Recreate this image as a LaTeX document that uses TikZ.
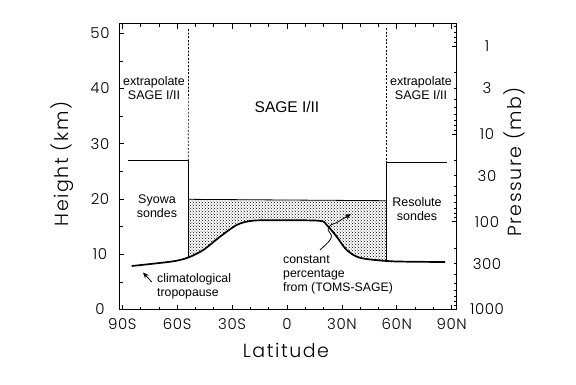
\documentclass[tikz,border=0pt]{standalone}
\usepackage{fontspec}
\setmainfont{Liberation Sans}
\newfontfamily\axfont{Poppins Light}[LetterSpace=8]
\newfontfamily\numfont{Poppins Light}[LetterSpace=4]
\usetikzlibrary{patterns,arrows.meta}
\begin{document}
\begin{tikzpicture}[x=1pt,y=-1pt,
  frame/.style={line width=0.9pt},
  tickmark/.style={line width=0.7pt},
  axnum/.style={font=\numfont\fontsize{15}{15}\selectfont, inner sep=0pt},
  axtitle/.style={font=\axfont\fontsize{19}{19}\selectfont, inner sep=0pt},
  lab/.style={font=\fontsize{12.5}{13.5}\selectfont, align=center, inner sep=0pt},
  labl/.style={font=\fontsize{12.3}{14}\selectfont, align=left, inner sep=0pt, anchor=west},
  bigl/.style={font=\fontsize{15.5}{16}\selectfont, inner sep=0pt},
  thinline/.style={line width=0.8pt},
  dashline/.style={line width=0.7pt, dash pattern=on 2pt off 1.6pt},
  tropo/.style={line width=1.7pt},
  pointer/.style={line width=0.8pt, -{Stealth[length=6pt,width=5pt]}}
]
\useasboundingbox (0,0) rectangle (576,384);
\fill[white] (0,0) rectangle (576,384);

% shaded region above the tropopause, below the SAGE box top
\begin{scope}
  \clip plot[smooth] coordinates {(131.7,266) (156.7,263.3) (175,261) (188.3,257.5) (203.3,250) (220,236.7) (236.7,225) (250,221) (265,220.3) (318,220.7) (326.7,225) (336.7,236.7) (346.7,250) (360,257.8) (386.7,261) (410,261.7) (445,262)} -- (445,150) -- (131.7,150) -- cycle;
  \fill[pattern=crosshatch dots] (188.3,199.3) -- (386.7,200.7) -- (386.7,275) -- (188.3,275) -- cycle;
\end{scope}

% tropopause curve
\draw[tropo] plot[smooth] coordinates {(131.7,266) (156.7,263.3) (175,261) (188.3,257.5) (203.3,250) (220,236.7) (236.7,225) (250,221) (265,220.3) (318,220.7) (326.7,225) (336.7,236.7) (346.7,250) (360,257.8) (386.7,261) (410,261.7) (445,262)};

% region boundaries
\coordinate (lt) at (188.5,29);
\coordinate (lm) at (188.3,160.3);
\coordinate (lb) at (188.3,257.5);
\coordinate (rt) at (386.7,28);
\coordinate (rm) at (386.7,162.7);
\coordinate (rb) at (386.7,261);
\coordinate (ll) at (128.3,160.3);
\coordinate (rr) at (446.7,162.7);
\draw[dashline] (lt) -- (lm);
\draw[dashline] (rt) -- (rm);
\draw[thinline] (ll) -- (lm) -- (lb);
\draw[thinline] (rr) -- (rm) -- (rb);
\draw[thinline] (188.3,199.3) -- (386.7,200.7);

% frame
\draw[frame] (119,23.5) rectangle (456.5,309.5);

% latitude ticks
\foreach \l in {-90,-80,...,90} {
  \pgfmathsetmacro\xx{287+1.83*\l}
  \pgfmathsetmacro\len{ifthenelse(mod(\l,30)==0,5,3)}
  \draw[tickmark] (\xx,309.5) -- ++(0,-\len);
  \draw[tickmark] (\xx,23.5) -- ++(0,\len);
}
% height ticks
\foreach \h in {0,5,...,50} {
  \pgfmathsetmacro\yy{309.5-5.524*\h}
  \pgfmathsetmacro\len{ifthenelse(mod(\h,10)==0,5,3.5)}
  \draw[tickmark] (119,\yy) -- ++(\len,0);
}
% pressure ticks
\foreach \p in {0.6,0.7,0.8,0.9,1,2,3,4,5,6,7,8,9,10,20,30,40,50,60,70,80,90,100,200,300,400,500,600,700,800,900} {
  \pgfmathsetmacro\yy{309.5-38.12*ln(1000/\p)}
  \pgfmathsetmacro\len{ifthenelse(or(or(\p==1,\p==10),\p==100),5,3)}
  \draw[tickmark] (456.5,\yy) -- ++(-\len,0);
}

% axis numbers
\foreach \h [count=\i] in {0,10,20,30,40,50}
  \node[axnum] (hnum\i) at (100,{309.5-5.524*\h}) {\h};
\foreach \p [count=\i] in {1,3,10,30,100,300,1000}
  \node[axnum] (pnum\i) at (487,{309.5-38.12*ln(1000/\p)}) {\p};
\foreach \l/\t [count=\i] in {-90/90S,-60/60S,-30/30S,0/0,30/30N,60/60N,90/90N}
  \node[axnum] (lnum\i) at ({287+1.83*\l},324) {\t};

% axis titles
\node[axtitle] (xtitle) at (286,350) {Latitude};
\node[axtitle, rotate=90] (ytitle) at (62,164) {Height (km)};
\node[axtitle, rotate=90] (ptitle) at (514,162) {Pressure (mb)};

% region labels
\node[lab] (extl) at (154,88) {extrapolate\\SAGE I/II};
\node[lab] (extr) at (421,88) {extrapolate\\SAGE I/II};
\node[bigl] (sage) at (287,107) {SAGE I/II};
\node[lab] (syowa) at (157,206) {Syowa\\sondes};
\node[lab] (resol) at (417,209) {Resolute\\sondes};
\node[labl] (clim) at (157,286) {climatological\\tropopause};
\node[labl] (const) at (283,275) {constant\\percentage\\from (TOMS-SAGE)};

% pointers
\coordinate (climtail) at (151.7,282);
\coordinate (climhead) at (143,272.5);
\draw[pointer] (climtail) -- (climhead);
\coordinate (consttail) at (320,250);
\coordinate (consthead) at (351,214);
\draw[pointer] (consttail) .. controls (326,244) and (335,238) .. (330,233) .. controls (326,229) and (328,225) .. (336,223) -- (consthead);
\end{tikzpicture}
\end{document}
